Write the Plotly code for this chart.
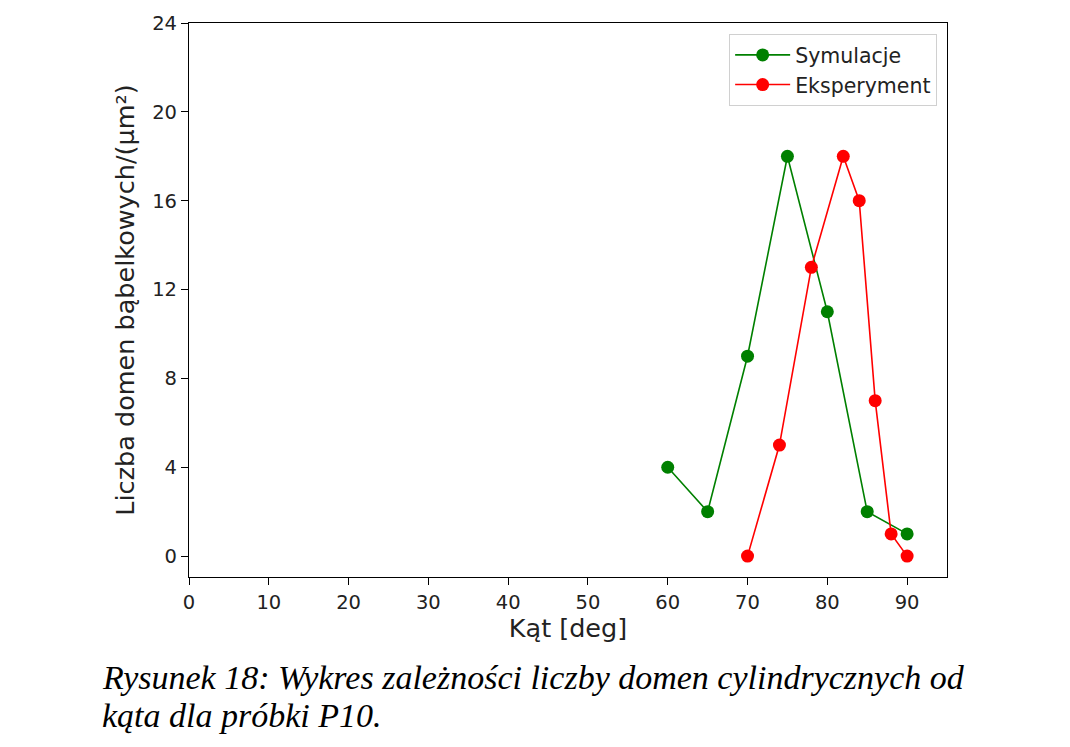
import plotly.graph_objects as go

sym_x = [60, 65, 70, 75, 80, 85, 90]
sym_y = [4, 2, 9, 18, 11, 2, 1]
exp_x = [70, 74, 78, 82, 84, 86, 88, 90]
exp_y = [0, 5, 13, 18, 16, 7, 1, 0]
x_ticks = [0, 10, 20, 30, 40, 50, 60, 70, 80, 90]
y_ticks = [0, 4, 8, 12, 16, 20, 24]

fig = go.Figure()
fig.add_trace(go.Scatter(x=sym_x, y=sym_y, mode="lines+markers", name="Symulacje",
                         line=dict(color="green", width=1.6),
                         marker=dict(color="green", size=13)))
fig.add_trace(go.Scatter(x=exp_x, y=exp_y, mode="lines+markers", name="Eksperyment",
                         line=dict(color="red", width=1.6),
                         marker=dict(color="red", size=13)))

axis_common = dict(showgrid=False, zeroline=False, showline=True, linecolor="black",
                   linewidth=1.2, mirror=True, ticks="outside", ticklen=7,
                   tickcolor="black", tickfont=dict(family="DejaVu Sans", size=19.5, color="#222"))

fig.update_xaxes(range=[0, 95], tickvals=x_ticks,
                 title=dict(text="Kąt [deg]", font=dict(family="DejaVu Sans", size=25.5, color="#222"), standoff=6),
                 **axis_common)
fig.update_yaxes(range=[-0.94, 24], tickvals=y_ticks,
                 title=dict(text="Liczba domen bąbelkowych/(μm²)", font=dict(family="DejaVu Sans", size=25.5, color="#222"), standoff=10),
                 **axis_common)

caption_lines = ["Rysunek 18: Wykres zależności liczby domen cylindrycznych od",
                 "kąta dla próbki P10."]
for i, line in enumerate(caption_lines):
    fig.add_annotation(xref="paper", yref="paper", x=-0.1174, y=-0.1817 - i * 0.0683,
                       xanchor="left", yanchor="middle", align="left", showarrow=False,
                       text="<i>" + line + "</i>",
                       font=dict(family="Liberation Serif", size=34, color="black"))

fig.update_layout(
    width=1070, height=747,
    margin=dict(l=189, r=123, t=21, b=170),
    paper_bgcolor="white", plot_bgcolor="white",
    legend=dict(x=0.987, y=0.98, xanchor="right", yanchor="top", itemwidth=55,
                bgcolor="white", bordercolor="#d0d0d0", borderwidth=1,
                font=dict(family="DejaVu Sans", size=20.5, color="#222")),
)

fig.write_html("out.html")
